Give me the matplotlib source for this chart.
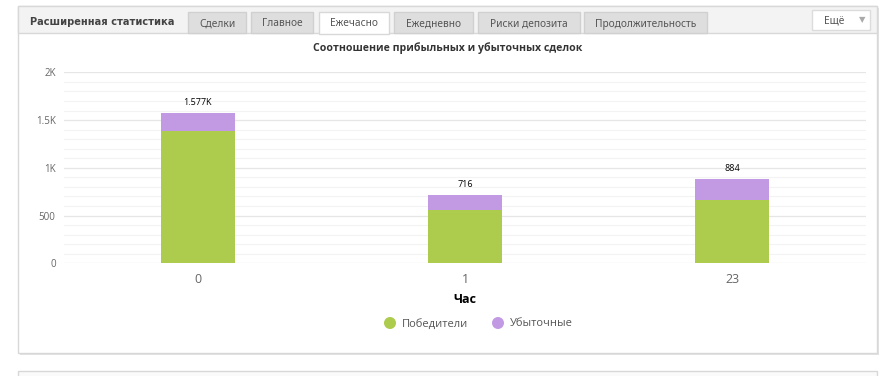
import numpy as np
import matplotlib.pyplot as plt
from matplotlib.patches import Rectangle, Ellipse
from matplotlib.ticker import MultipleLocator, FuncFormatter

# Данные: часы и количество сделок
hours = ['0', '1', '23']
winners = [1387, 555, 660]
losers = [190, 161, 224]
totals = [w + l for w, l in zip(winners, losers)]
total_labels = ['1.577K', '716', '884']

tabs = ['Сделки', 'Главное', 'Ежечасно', 'Ежедневно', 'Риски депозита', 'Продолжительность']
tab_x = [188, 251, 319, 394, 478, 584]
tab_w = [58, 62, 70, 79, 102, 123]
active_tab = 'Ежечасно'

green = '#adcb4d'
purple = '#c29ae3'

W, H = 886, 376
fig = plt.figure(figsize=(W / 100, H / 100), dpi=100)
fig.patch.set_facecolor('white')


# Прямоугольник в пикселях (от верхнего левого угла)
def px_rect(x, y, w, h, **kw):
    r = Rectangle((x / W, 1 - (y + h) / H), w / W, h / H,
                  transform=fig.transFigure, **kw)
    fig.patches.append(r)
    return r


def px_text(x, y, s, **kw):
    fig.text(x / W, 1 - y / H, s, **kw)


# Панель и шапка
px_rect(20, 8, 859, 347, facecolor='#e2e2e2', edgecolor='none', zorder=0)
px_rect(18, 6, 859, 347, facecolor='white', edgecolor='#d8d8d8', lw=1, zorder=1)
px_rect(18, 6, 859, 27, facecolor='#f3f3f3', edgecolor='#d8d8d8', lw=1, zorder=1)
px_text(30, 22, 'Расширенная статистика', fontsize=7.1, fontweight='bold',
        color='#444444', va='center', family='DejaVu Sans', zorder=3)

for name, x, w in zip(tabs, tab_x, tab_w):
    if name == active_tab:
        px_rect(x, 12, w, 22, facecolor='white', edgecolor='#d8d8d8', lw=1, zorder=2)
    else:
        px_rect(x, 12, w, 21, facecolor='#dedede', edgecolor='#d0d0d0', lw=1, zorder=2)
    px_text(x + w / 2, 24, name, fontsize=7.3, color='#555555', ha='center',
            va='center', family='Noto Sans', zorder=3)

px_rect(812, 10, 58, 20, facecolor='white', edgecolor='#dcdcdc', lw=1, zorder=2)
px_text(834, 21, 'Ещё', fontsize=7.3, color='#555555', ha='center', va='center',
        family='Noto Sans', zorder=3)
px_text(862, 20, '▼', fontsize=6, color='#aaaaaa', ha='center', va='center',
        family='DejaVu Sans', zorder=3)

# Нижняя панель
px_rect(18, 371, 859, 10, facecolor='#fafafa', edgecolor='#d8d8d8', lw=1, zorder=1)

# Область графика
ax = fig.add_axes([64 / W, 1 - 263.3 / H, 802 / W, (263.3 - 72.3) / H], zorder=5)
ax.set_facecolor('none')
x = np.arange(len(hours))
ax.bar(x, winners, width=0.277, color=green, zorder=3)
ax.bar(x, losers, width=0.277, bottom=winners, color=purple, zorder=3)
for xi, t, lab in zip(x, totals, total_labels):
    ax.text(xi, t + 60, lab, ha='center', va='bottom', fontsize=6.5,
            color='black', family='Open Sans')

ax.set_xlim(-0.5, len(hours) - 0.5)
ax.set_ylim(0, 2000)
ax.yaxis.set_major_locator(MultipleLocator(500))
ax.yaxis.set_minor_locator(MultipleLocator(100))
ax.grid(axis='y', which='major', color='#e6e6e6', lw=0.9, zorder=0)
ax.grid(axis='y', which='minor', color='#f3f3f3', lw=0.8, zorder=0)


def kfmt(v, pos):
    if v >= 1000:
        return f'{v / 1000:g}K'
    return f'{int(v)}'


ax.yaxis.set_major_formatter(FuncFormatter(kfmt))
ax.set_xticks(x)
ax.set_xticklabels(hours)
for s in ax.spines.values():
    s.set_visible(False)
ax.tick_params(axis='y', which='both', length=0, pad=6, labelsize=7,
               labelcolor='#666666')
ax.tick_params(axis='x', length=0, pad=7, labelsize=9, labelcolor='#666666')
for lab in ax.get_xticklabels() + ax.get_yticklabels():
    lab.set_family('Open Sans')
ax.set_xlabel('Час', fontsize=9, fontweight='bold', family='Open Sans', labelpad=5)

px_text(448, 48, 'Соотношение прибыльных и убыточных сделок', fontsize=7.6,
        fontweight='bold', color='#333333', ha='center', va='center',
        family='Open Sans', zorder=3)

# Легенда
for cx, col, lab in [(390, green, 'Победители'), (498, purple, 'Убыточные')]:
    e = Ellipse((cx / W, 1 - 323 / H), 12 / W, 12 / H, transform=fig.transFigure,
                facecolor=col, edgecolor='none', zorder=4)
    fig.patches.append(e)
    px_text(cx + 12, 324, lab, fontsize=8, color='#555555', va='center',
            family='Open Sans', zorder=4)

fig.savefig('out.png', dpi=100)
